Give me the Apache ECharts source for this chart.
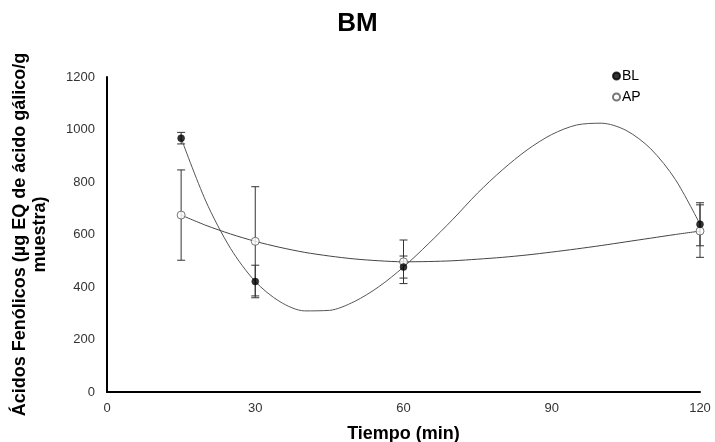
<!DOCTYPE html>
<html>
<head>
<meta charset="utf-8">
<script src="https://cdn.jsdelivr.net/npm/echarts@6/dist/echarts.min.js"></script>
<style>
  html, body { margin: 0; padding: 0; background: #fff; }
  #main { width: 715px; height: 442px; }
</style>
</head>
<body>
<div id="main"></div>
<script>
// tiempos de muestreo (min)
const tiempos = [15, 30, 60, 120];
// medias y desviaciones
const blValores = [967, 421, 476, 639];
const blError = [22, 62, 42, 82];
const apValores = [674, 574, 496, 613];
const apError = [172, 208, 83, 100];
// curvas de tendencia (cada 5 min)
const curvaX = [15, 20, 25, 30, 35, 40, 45, 50, 55, 60, 65, 70, 75, 80, 85, 90, 95, 100, 105, 110, 115, 120];
const blCurva = [967, 727, 547, 421, 344, 309, 311, 344, 401, 476, 564, 658, 758, 846, 922, 981, 1017, 1024, 997, 927, 810, 639];
const apCurva = [674, 635, 602, 574, 551, 532, 518, 507, 500, 496, 497, 500, 506, 513, 522, 533, 545, 558, 572, 586, 600, 613];
const ticksX = [0, 30, 60, 90, 120];

const chart = echarts.init(document.getElementById("main"));

// barras de error con tapas
const errorBars = (valores, errores) => ({
  type: "custom",
  silent: true,
  z: 1,
  data: tiempos.map((t, i) => [t, valores[i] - errores[i], valores[i] + errores[i]]),
  renderItem: (params, api) => {
    const lo = api.coord([api.value(0), api.value(1)]);
    const hi = api.coord([api.value(0), api.value(2)]);
    const w = 4;
    const st = { stroke: "#333", lineWidth: 1 };
    return {
      type: "group",
      children: [
        { type: "line", shape: { x1: lo[0], y1: lo[1], x2: hi[0], y2: hi[1] }, style: st },
        { type: "line", shape: { x1: lo[0] - w, y1: lo[1], x2: lo[0] + w, y2: lo[1] }, style: st },
        { type: "line", shape: { x1: hi[0] - w, y1: hi[1], x2: hi[0] + w, y2: hi[1] }, style: st },
      ],
    };
  },
});

const option = {
  animation: false,
  title: {
    text: "BM",
    left: "center",
    top: 6,
    textStyle: { fontFamily: "Liberation Sans", fontSize: 26, fontWeight: "bold", color: "#000" },
  },
  legend: {
    orient: "vertical",
    left: 607,
    top: 64,
    itemWidth: 7,
    itemHeight: 7,
    itemGap: 7,
    data: ["BL", "AP"],
    textStyle: { fontFamily: "Liberation Sans", fontSize: 14, color: "#000", padding: [0, 0, 0, -3] },
  },
  grid: { left: 107, right: 15, top: 77, bottom: 50, outerBoundsMode: "none" },
  xAxis: {
    type: "value",
    min: 0,
    max: 120,
    interval: 30,
    name: "Tiempo (min)",
    nameLocation: "middle",
    nameGap: 33,
    nameTextStyle: { fontFamily: "Liberation Sans", fontSize: 18, fontWeight: "bold", color: "#000" },
    axisLine: { lineStyle: { color: "#000", width: 2 } },
    axisTick: { show: false },
    splitLine: { show: false },
    axisLabel: {
      fontFamily: "Liberation Sans", fontSize: 13, color: "#333", margin: 10,
      formatter: (v) => (ticksX.includes(v) ? String(v) : ""),
    },
  },
  yAxis: {
    type: "value",
    min: 0,
    max: 1200,
    interval: 200,
    name: "Ácidos Fenólicos (µg EQ de ácido gálico/g\nmuestra)",
    nameLocation: "middle",
    nameGap: 57,
    nameTextStyle: { fontFamily: "Liberation Sans", fontSize: 18, fontWeight: "bold", color: "#000", lineHeight: 20 },
    axisLine: { show: true, lineStyle: { color: "#000", width: 2 } },
    axisTick: { show: false },
    splitLine: { show: false },
    axisLabel: { fontFamily: "Liberation Sans", fontSize: 13, color: "#333", margin: 12, formatter: (v) => String(v) },
  },
  series: [
    errorBars(blValores, blError),
    errorBars(apValores, apError),
    {
      type: "line",
      data: curvaX.map((x, i) => [x, blCurva[i]]),
      smooth: 0.3,
      showSymbol: false,
      silent: true,
      z: 2,
      lineStyle: { color: "#555", width: 1 },
    },
    {
      type: "line",
      data: curvaX.map((x, i) => [x, apCurva[i]]),
      smooth: 0.3,
      showSymbol: false,
      silent: true,
      z: 2,
      lineStyle: { color: "#444", width: 1 },
    },
    {
      name: "BL",
      type: "scatter",
      data: tiempos.map((t, i) => [t, blValores[i]]),
      symbol: "circle",
      symbolSize: 7,
      z: 4,
      itemStyle: { color: "#000", borderColor: "#000", borderWidth: 0.5 },
    },
    {
      name: "AP",
      type: "scatter",
      data: tiempos.map((t, i) => [t, apValores[i]]),
      symbol: "circle",
      symbolSize: 8,
      z: 3,
      itemStyle: { color: "#fff", borderColor: "#555", borderWidth: 1 },
    },
  ],
};
chart.setOption(option);
</script>
</body>
</html>
